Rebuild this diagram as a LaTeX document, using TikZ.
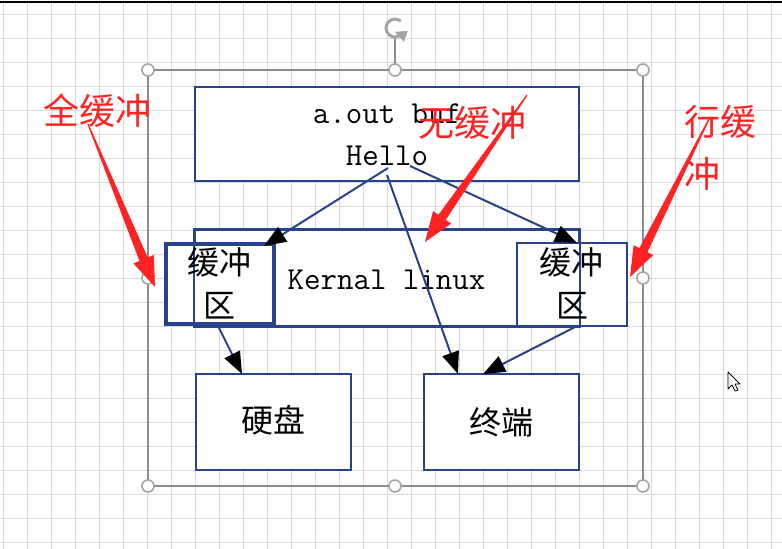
\documentclass[tikz,border=0pt]{standalone}
\usepackage{fontspec}
\newfontfamily\cjk{Noto Sans CJK SC}
\usetikzlibrary{arrows.meta,calc}
\definecolor{boxblue}{RGB}{40,66,140}
\definecolor{annored}{RGB}{255,35,35}
\definecolor{gridc}{RGB}{217,217,217}
\definecolor{selc}{RGB}{140,140,140}
\definecolor{handlec}{RGB}{165,165,165}
\newcommand{\redarr}[2]{%
  \coordinate (ra-s) at ($(#2)!30pt!(#1)$);
  \fill[annored] ($(#1)!0.6pt!90:(#2)$) -- ($(ra-s)!4.5pt!90:(#2)$) -- ($(ra-s)!11pt!90:(#2)$) -- (#2)
     -- ($(ra-s)!11pt!-90:(#2)$) -- ($(ra-s)!4.5pt!-90:(#2)$) -- ($(#1)!0.6pt!-90:(#2)$) -- cycle;}
\tikzset{
  box/.style={draw=boxblue, line width=2pt, fill=white, inner sep=0pt},
  conn/.style={draw=boxblue, line width=2pt, -{Triangle[length=22pt,width=17pt,color=black]}},
  handle/.style={circle, draw=handlec, line width=1.6pt, fill=white, minimum size=12pt, inner sep=0pt},
  mono/.style={font=\fontsize{32}{38}\selectfont\ttfamily, inner sep=0pt, anchor=base},
  cjkb/.style={font=\fontsize{32}{38}\selectfont\cjk, inner sep=0pt, anchor=base},
  cjkr/.style={font=\fontsize{36}{42}\selectfont\cjk, text=annored, inner sep=0pt, anchor=base},
}
\begin{document}
\begin{tikzpicture}[x=1pt,y=-1pt]
\useasboundingbox (0,0) rectangle (782,549);
\fill[white] (0,0) rectangle (782,549);
% grid
\foreach \k in {0,...,32} \draw[gridc, line width=1pt] ({3+24*\k},0) -- ({3+24*\k},549);
\foreach \k in {0,...,22} \draw[gridc, line width=1pt] (0,{14+24*\k}) -- (782,{14+24*\k});
\draw[black, line width=1.3pt] (0,2) -- (782,2);
% selection frame
\draw[selc, line width=1.2pt] (148,70) rectangle (643,486);
\draw[selc, line width=1.2pt] (395,38) -- (395,64);
\foreach \p/\n in {{(148,70)}/h1,{(395,70)}/h2,{(643,70)}/h3,{(148,486)}/h4,{(395,486)}/h5,{(643,486)}/h6,{(148,278)}/h7,{(643,278)}/h8}
  \node[handle] (\n) at \p {};
\coordinate (rot) at (395,28);
\draw[handlec, line width=3pt] ($(rot)+(-50:9)$) arc[start angle=-50, end angle=-310, radius=9];
\fill[handlec] ($(rot)+(50:9)+(-6,-3)$) -- ($(rot)+(50:9)+(7,-4)$) -- ($(rot)+(50:9)+(3,7)$) -- cycle;
% boxes
\node[box, minimum width=384pt, minimum height=94pt] (top) at (387,134) {};
\node[box, minimum width=384pt, minimum height=96pt] (kern) at (387,278) {};
\node[box, line width=3.5pt, minimum width=108pt, minimum height=80pt] (lbuf) at (220,284) {};
\node[box, minimum width=110pt, minimum height=83pt] (rbuf) at (572,284.5) {};
\draw[boxblue, line width=2pt] (kern.north west) rectangle (kern.south east);
\node[box, minimum width=155pt, minimum height=96pt] (disk) at (273.5,422) {};
\node[box, minimum width=155pt, minimum height=96pt] (term) at (501.5,422) {};
% texts
\node[mono] (t1) at (387,123) {a.out buf};
\node[mono] (t2) at (387,165) {Hello};
\node[mono] (t3) at (386.5,289) {Kernal linux};
\node[cjkb] (l1) at (219,274) {缓冲};
\node[cjkb] (l2) at (219,317) {区};
\node[cjkb] (r1) at (571,274) {缓冲};
\node[cjkb] (r2) at (572,317) {区};
\node[cjkb] (d1) at (273,432) {硬盘};
\node[cjkb] (e1) at (501,434) {终端};
% connectors
\coordinate (c1s) at (388,168);
\coordinate (c1e) at (264,246);
\coordinate (c2s) at (410,166);
\coordinate (c2e) at (577,243);
\coordinate (c3s) at (387,175);
\coordinate (c3e) at (458,374);
\coordinate (c4s) at (218,326);
\coordinate (c4e) at (242,374);
\coordinate (c5s) at (577,326);
\coordinate (c5e) at (483,374);
\draw[conn] (c1s) -- (c1e);
\draw[conn] (c2s) -- (c2e);
\draw[conn] (c3s) -- (c3e);
\draw[conn] (c4s) -- (c4e);
\draw[conn] (c5s) -- (c5e);
% red annotations
\node[cjkr] (a1) at (97,124) {全缓冲};
\node[cjkr] (a2) at (472.5,136) {无缓冲};
\node[cjkr, anchor=base west] (a3) at (684,135) {行缓};
\node[cjkr, anchor=base west] (a4) at (684,187) {冲};
\coordinate (ra1) at (88,124);
\coordinate (rb1) at (155,287);
\coordinate (ra2) at (527,95);
\coordinate (rb2) at (425,242);
\coordinate (ra3) at (710,117);
\coordinate (rb3) at (630,277);
\redarr{ra1}{rb1}
\redarr{ra2}{rb2}
\redarr{ra3}{rb3}
% cursor
\draw[black, fill=white, line width=0.8pt, line join=round] (728,372) -- (728,389) -- (732,385) -- (735,391) -- (738,390) -- (735,384) -- (740,384) -- cycle;
\end{tikzpicture}
\end{document}
